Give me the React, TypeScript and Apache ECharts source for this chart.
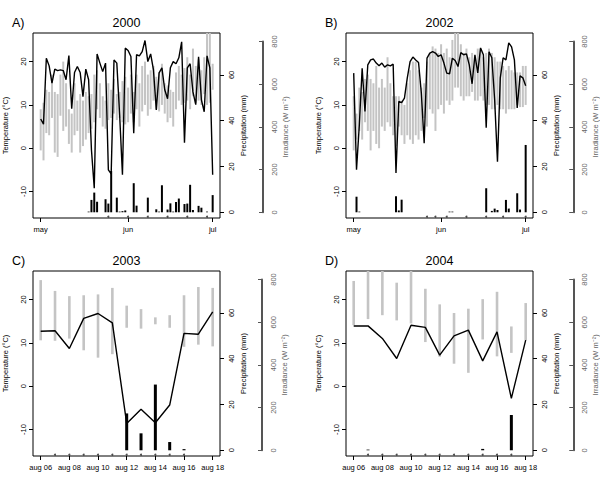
import React, { useEffect, useRef } from 'react';
import * as echarts from 'echarts';

// ---------- data ----------
// A & B: day index 0 = May 1 ... 61 = Jul 1
const monthTicks = [0, 31, 61];
const monthLabels = ['may', 'jun', 'jul'];
// C & D: day index 0 = Aug 06 ... 12 = Aug 18
const augTicks = [0, 2, 4, 6, 8, 10, 12];
const augLabels = ['aug 06', 'aug 08', 'aug 10', 'aug 12', 'aug 14', 'aug 16', 'aug 18'];

const tempTicks = [-10, 0, 10, 20];
const precipTicks = [0, 20, 40, 60];

const daysMayJun = Array.from({ length: 62 }, (_, i) => i);
const daysAug = Array.from({ length: 13 }, (_, i) => i);

// 2000
const irrA = [437, 413, 722, 686, 605, 671, 664, 667, 664, 621, 734, 485, 655, 683, 655, 542, 671, 621, 293, 113, 742, 699, 659, 699, 199, 180, 714, 699, 457, 176, 769, 758, 730, 371, 738, 733, 753, 805, 706, 742, 667, 480, 653, 677, 574, 532, 677, 706, 696, 724, 799, 326, 677, 696, 564, 504, 728, 527, 471, 733, 677, 176];
const tMinA = [-0.5, -2.8, 3.5, 3, 7, -1, -2, 7.5, 4, 5, 1, -1, 3, 4, -1, 0.5, 2, 3.5, 4.5, 6, 9, 7, 5, 4.5, 6.5, 7, 8, 6.5, 7, 6, 5.5, 6, 8, 6, 9, 5, 8.5, 10, 7.5, 9, 11, 9, 8.5, 10, 8, 6, 7, 5, 9, 11, 10, 10.5, 11, 9, 12, 10.5, 11, 10, 12.5, 10, 10.5, 13.5];
const tMaxA = [9, 10.5, 13.5, 13, 17, 13, 12.5, 17, 20, 15, 9, 8, 15, 11, 12.5, 11, 13, 12, 12.5, 17, 18, 15, 12, 11, 15, 13.5, 16, 12.5, 13, 15.5, 16.5, 14, 17, 13, 17, 15, 19, 20, 17, 18, 19, 16.5, 17.5, 19.5, 15, 14.5, 13.5, 13, 17.5, 19, 17, 18.5, 21, 17, 23, 19, 20.5, 18, 21, 28, 28, 19.5];
const precipDaysA = [17, 18, 19, 20, 23, 24, 25, 27, 28, 29, 30, 33, 34, 38, 41, 42, 43, 45, 46, 47, 48, 49, 51, 52, 53, 54, 56, 57, 59, 61];
const precipA = [0.3, 5.4, 8.6, 4.6, 5.7, 3.8, 18, 6.4, 0.3, 0.5, 0.8, 12.7, 2.9, 6.4, 1.3, 0.3, 11.8, 1.2, 3.9, 0.3, 4.5, 6, 3.6, 3.8, 12, 1, 2.8, 2, 0.3, 7.5];
const marksA = [24, 31, 38, 45, 52, 59];

// 2002
const irrB = [652, 199, 410, 675, 472, 691, 714, 718, 699, 686, 699, 680, 691, 686, 694, 184, 519, 514, 535, 629, 706, 727, 714, 702, 558, 324, 722, 746, 753, 746, 730, 738, 699, 652, 649, 722, 711, 683, 748, 738, 742, 691, 602, 738, 653, 770, 738, 396, 752, 724, 527, 237, 630, 724, 714, 794, 775, 714, 489, 639, 630, 593];
const tMinB = [-0.5, 2, 4, 2, 6, 4, -0.5, 4, 1, 0, 5, 4, 6, 5, 3, 0.5, 5, 3, 1, 3, 2, 1, 3, 2, 4, 7, 5, 9, 8, 4, 9, 10, 8, 11, 10, 11, 14, 14, 12, 11, 12, 12, 13, 11, 11, 12, 11, 10, 10, 9, 9, 10, 9, 9, 8, 9, 9, 9, 10, 9.5, 9.5, 10];
const tMaxB = [12, 8, 14, 13, 16, 17, 16, 15, 19, 14, 16, 14, 21, 15, 12, 12, 12, 11, 10, 15, 18, 20, 20, 18, 14, 15, 20, 22, 23.5, 23, 22, 24, 22, 23, 21, 25, 28, 28, 24, 22, 23, 21, 22, 21, 23, 23, 21, 22, 23, 22, 21, 20, 20, 19, 18, 19, 18, 17.5, 17.5, 17.5, 19, 19];
const precipDaysB = [1, 2, 15, 16, 17, 34, 35, 47, 49, 50, 51, 54, 55, 58, 59, 61];
const precipB = [6.8, 0.3, 7, 0.8, 5.5, 0.3, 0.3, 10.5, 0.6, 1.6, 1, 5.4, 1.6, 8.3, 1.2, 29.4];
const marksB = [26, 29, 33, 40, 47, 53, 61];

// 2003
const irrC = [558, 560, 477, 618, 641, 597, 126, 192, 129, 212, 548, 544, 649];
const tMinC = [10.6, 10.5, 11, 8.3, 6.6, 7.4, 13.5, 13.3, 14.3, 13.5, 9.1, 9.6, 9.2];
const tMaxC = [24.5, 22, 20.8, 21, 21.2, 22.7, 18.6, 17.8, 15.9, 16.4, 21, 22.9, 22.7];
const precipDaysC = [6, 7, 8, 9, 10];
const precipC = [16.1, 7.4, 28.7, 3.6, 0.5];
const marksC = [1, 2, 3, 4, 5, 6, 7, 8, 9, 10];

// 2004
const irrD = [582, 583, 524, 430, 586, 576, 446, 536, 563, 419, 555, 243, 516];
const tMinD = [14.1, 15.5, 16.4, 15.2, 14.5, 10.2, 6.8, 5.2, 3.1, 10.8, 6.9, 7.7, 10.6];
const tMaxD = [24.3, 28, 28, 23.9, 28, 22.5, 18.9, 16.9, 17.9, 20.1, 21.8, 13.8, 19.2];
const precipDaysD = [1, 9, 11];
const precipD = [0.3, 0.6, 15.4];
const marksD = [1, 2, 3, 4, 5, 6, 7, 8, 9, 10, 11];

// ---------- layout ----------
const FONT = 'Liberation Sans, Arial, Helvetica, sans-serif';
const BOX_W = 187;
const BOX_H = 185;
const T_MIN = -16.1, T_MAX = 26.6;
const P_MIN = -2.5, P_MAX = 78.3;
const I_MIN = -26.7, I_MAX = 840;
const MARK_LEVEL = -1.9;

const panels = [
  { letter: 'A)', title: '2000', left: 33, top: 33, irrX: 263, days: daysMayJun, tMin: tMinA, tMax: tMaxA, irr: irrA, pDays: precipDaysA, p: precipA, marks: marksA, ticks: monthTicks, labels: monthLabels, xMin: -2.73, xMax: 63.6, barW: 2, rangeW: 2 },
  { letter: 'B)', title: '2002', left: 346, top: 33, irrX: 574, days: daysMayJun, tMin: tMinB, tMax: tMaxB, irr: irrB, pDays: precipDaysB, p: precipB, marks: marksB, ticks: monthTicks, labels: monthLabels, xMin: -2.73, xMax: 63.6, barW: 2, rangeW: 2 },
  { letter: 'C)', title: '2003', left: 33, top: 271, irrX: 262, days: daysAug, tMin: tMinC, tMax: tMaxC, irr: irrC, pDays: precipDaysC, p: precipC, marks: marksC, ticks: augTicks, labels: augLabels, xMin: -0.537, xMax: 12.51, barW: 3, rangeW: 2.6 },
  { letter: 'D)', title: '2004', left: 346, top: 271, irrX: 574, days: daysAug, tMin: tMinD, tMax: tMaxD, irr: irrD, pDays: precipDaysD, p: precipD, marks: marksD, ticks: augTicks, labels: augLabels, xMin: -0.537, xMax: 12.51, barW: 3, rangeW: 2.6 },
];

const segItem = (color: string, width: number) => (params: any, api: any) => {
  const a = api.coord([api.value(0), api.value(1)]);
  const b = api.coord([api.value(0), api.value(2)]);
  return {
    type: 'line',
    shape: { x1: a[0], y1: a[1], x2: b[0], y2: b[1] },
    style: { stroke: color, lineWidth: width, lineCap: 'butt' },
  };
};

const txt = { fontFamily: FONT, fontSize: 7.5, color: '#000' };

function buildOption() {
  const grid: any[] = [];
  const xAxis: any[] = [];
  const yAxis: any[] = [];
  const series: any[] = [];
  const graphic: any[] = [];
  const pxPerI = BOX_H / (I_MAX - I_MIN);

  panels.forEach((pn, k) => {
    grid[k] = { left: pn.left, top: pn.top, width: BOX_W, height: BOX_H, show: true, borderColor: '#000', borderWidth: 1, backgroundColor: 'transparent' };
    grid[4 + k] = { left: pn.irrX - 1, width: 1, top: pn.top + (I_MAX - 800) * pxPerI, height: 800 * pxPerI, show: false };

    xAxis[k] = {
      type: 'value', gridIndex: k, min: pn.xMin, max: pn.xMax, position: 'bottom',
      axisLine: { show: false, onZero: false },
      splitLine: { show: false },
      axisTick: { show: true, length: 4, customValues: pn.ticks, lineStyle: { color: '#000' } },
      axisLabel: { ...txt, margin: 7, customValues: pn.ticks, formatter: (v: number) => pn.labels[pn.ticks.indexOf(v)] ?? '' },
    };
    xAxis[4 + k] = { type: 'value', gridIndex: 4 + k, show: false, min: 0, max: 1, axisLine: { onZero: false } };

    yAxis[3 * k] = {
      type: 'value', gridIndex: k, position: 'left', min: T_MIN, max: T_MAX,
      axisLine: { show: false, onZero: false }, splitLine: { show: false },
      axisTick: { show: true, length: 4, customValues: tempTicks, lineStyle: { color: '#000' } },
      axisLabel: { ...txt, rotate: 90, margin: 6, customValues: tempTicks },
      name: 'Temperature (°C)', nameLocation: 'middle', nameRotate: 90, nameGap: 24,
      nameTextStyle: { ...txt },
    };
    yAxis[3 * k + 1] = {
      type: 'value', gridIndex: k, position: 'right', min: P_MIN, max: P_MAX,
      axisLine: { show: false, onZero: false }, splitLine: { show: false },
      axisTick: { show: true, length: 4, customValues: precipTicks, lineStyle: { color: '#000' } },
      axisLabel: { ...txt, rotate: 90, margin: 7, customValues: precipTicks },
      name: 'Precipitation (mm)', nameLocation: 'middle', nameRotate: 90, nameGap: 19,
      nameTextStyle: { ...txt },
    };
    yAxis[3 * k + 2] = { type: 'value', gridIndex: k, show: false, min: I_MIN, max: I_MAX, axisLine: { onZero: false } };
    yAxis[12 + k] = {
      type: 'value', gridIndex: 4 + k, position: 'right', min: 0, max: 800, interval: 200,
      axisLine: { show: true, onZero: false, lineStyle: { color: '#555', width: 2 } },
      splitLine: { show: false },
      axisTick: { show: true, inside: true, length: 4, lineStyle: { color: '#555', width: 1 } },
      axisLabel: { ...txt, color: '#666', rotate: 90, margin: 7 },
      name: 'Irradiance (W m⁻²)', nameLocation: 'middle', nameRotate: 90, nameGap: 18,
      nameTextStyle: { ...txt, color: '#666' },
    };

    series.push({
      type: 'custom', xAxisIndex: k, yAxisIndex: 3 * k, clip: true,
      renderItem: segItem('#c4c4c4', pn.rangeW),
      encode: { x: 0, y: [1, 2] },
      data: pn.days.map((d, i) => [d, pn.tMin[i], pn.tMax[i]]),
    });
    series.push({
      type: 'line', xAxisIndex: k, yAxisIndex: 3 * k + 2, showSymbol: false, symbol: 'none',
      lineStyle: { color: '#000', width: 1.4 },
      data: pn.days.map((d, i) => [d, pn.irr[i]]),
      z: 3,
    });
    series.push({
      type: 'custom', xAxisIndex: k, yAxisIndex: 3 * k + 1, clip: true,
      renderItem: segItem('#000', pn.barW),
      encode: { x: 0, y: [1, 2] },
      data: pn.pDays.map((d, i) => [d, 0, pn.p[i]]),
      z: 4,
    });
    series.push({
      type: 'scatter', xAxisIndex: k, yAxisIndex: 3 * k + 1, symbol: 'circle', symbolSize: 2,
      itemStyle: { color: '#222' },
      data: pn.marks.map((d) => [d, MARK_LEVEL]),
      z: 4,
    });

    graphic.push({
      type: 'text', x: pn.left + BOX_W / 2, y: pn.top - 10,
      style: { text: pn.title, font: `12.5px ${FONT}`, fill: '#000', textAlign: 'center', textVerticalAlign: 'middle' },
    });
    graphic.push({
      type: 'text', x: pn.left - 21, y: pn.top - 10,
      style: { text: pn.letter, font: `12.5px ${FONT}`, fill: '#000', textAlign: 'left', textVerticalAlign: 'middle' },
    });
  });

  return {
    animation: false,
    backgroundColor: '#fff',
    textStyle: { fontFamily: FONT },
    grid, xAxis, yAxis, series, graphic,
  };
}

export default function App() {
  const ref = useRef<HTMLDivElement>(null);
  useEffect(() => {
    const chart = echarts.init(ref.current as HTMLDivElement, null, { renderer: 'svg' });
    chart.setOption(buildOption() as any);
    return () => chart.dispose();
  }, []);
  return (
    <div
      ref={ref}
      style={{ position: 'fixed', left: 0, top: 0, width: 600, height: 500, background: '#fff' }}
    />
  );
}
